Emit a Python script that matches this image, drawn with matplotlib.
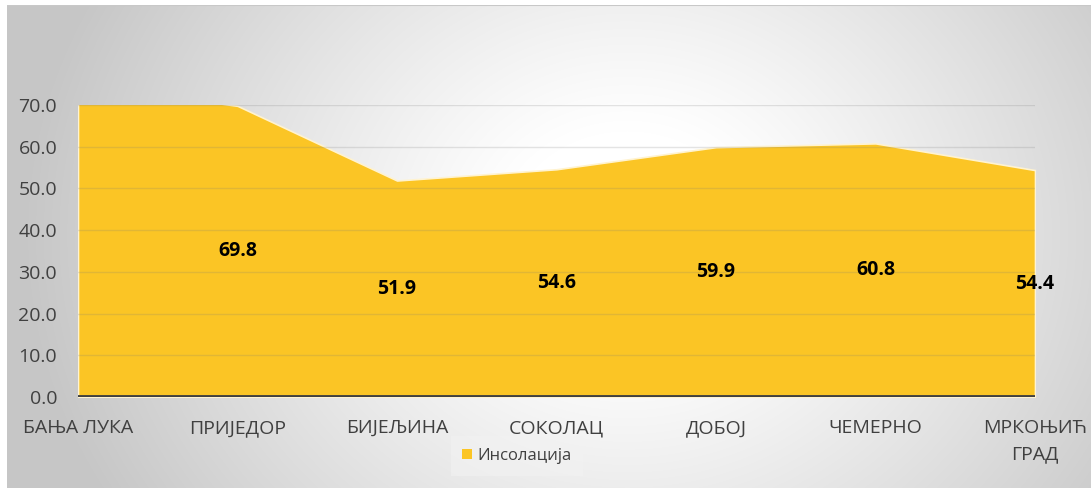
import numpy as np
import matplotlib
matplotlib.use("Agg")
import matplotlib.pyplot as plt
from matplotlib.patches import Patch

categories = ["БАЊА ЛУКА", "ПРИЈЕДОР", "БИЈЕЉИНА", "СОКОЛАЦ", "ДОБОЈ", "ЧЕМЕРНО", "МРКОЊИЋ\nГРАД"]
values = [75.0, 69.8, 51.9, 54.6, 59.9, 60.8, 54.4]
show_label = [False, True, True, True, True, True, True]
series_name = "Инсолација"
yticks = [0, 10, 20, 30, 40, 50, 60, 70]

plt.rcParams['font.family'] = ['Open Sans', 'DejaVu Sans']

W, H = 1091, 488
fig = plt.figure(figsize=(W / 100, H / 100), dpi=100)
fig.patch.set_facecolor("white")

# background radial gradient
bg = fig.add_axes([7 / W, 0, (W - 7) / W, (H - 5) / H])
bg.set_axis_off()
yy, xx = np.mgrid[0:483, 0:1084]
cx, cy = 620, 230
d = np.sqrt(((xx - cx) / 600.0) ** 2 + ((yy - cy) / 520.0) ** 2)
g = np.clip((d - 0.2) / 0.8, 0, 1)
shade = 1.0 - 0.22 * g ** 1.1
img = np.dstack([shade, shade, shade])
bg.imshow(img, aspect="auto", extent=[0, 1, 0, 1], origin="upper")
bg.set_xlim(0, 1)
bg.set_ylim(0, 1)
bg.plot([0, 1], [1, 1], color="#c8c8c8", lw=1.5, transform=bg.transAxes)

ax = fig.add_axes([78 / W, 91 / H, (1035 - 78) / W, 292 / H])
ax.patch.set_alpha(0)
x = np.arange(len(categories))
ax.fill_between(x, values, 0, color="#FBC525", edgecolor="#FFF3D0", linewidth=1.2, zorder=2)
ax.set_xlim(0, len(categories) - 1)
ax.set_ylim(0, 70)
ax.set_yticks(yticks)
ax.set_yticklabels([f"{v:.1f}" for v in yticks])
for v in yticks[1:]:
    ax.axhline(v, color="#7a7a7a", lw=1.0, alpha=0.2, zorder=3)
ax.axhline(0, color="#404040", lw=3.5, zorder=4)
for s in ax.spines.values():
    s.set_visible(False)
ax.set_xticks(x)
ax.set_xticklabels(categories, fontsize=14, color="#404040", linespacing=1.55)
ax.tick_params(axis="y", labelsize=14, labelcolor="#404040", length=0, pad=15)
ax.tick_params(axis="x", length=0, pad=16)

for xi, v, sh in zip(x, values, show_label):
    if sh:
        ax.text(xi, v / 2, f"{v:.1f}", ha="center", va="center", fontsize=14,
                fontweight="bold", color="black", zorder=5)

leg = fig.legend(handles=[Patch(facecolor="#FBC525", edgecolor="none", label=series_name)],
                 loc="center", bbox_to_anchor=(517 / W, 1 - 456 / H), frameon=True,
                 fontsize=12, handlelength=0.6, handleheight=0.6, handletextpad=0.3,
                 borderpad=0.7, fancybox=False)
leg.get_frame().set_facecolor("#f2f2f2")
leg.get_frame().set_edgecolor("none")
leg.get_frame().set_alpha(0.6)
for t in leg.get_texts():
    t.set_color("#404040")

fig.savefig("out.png", dpi=100)
